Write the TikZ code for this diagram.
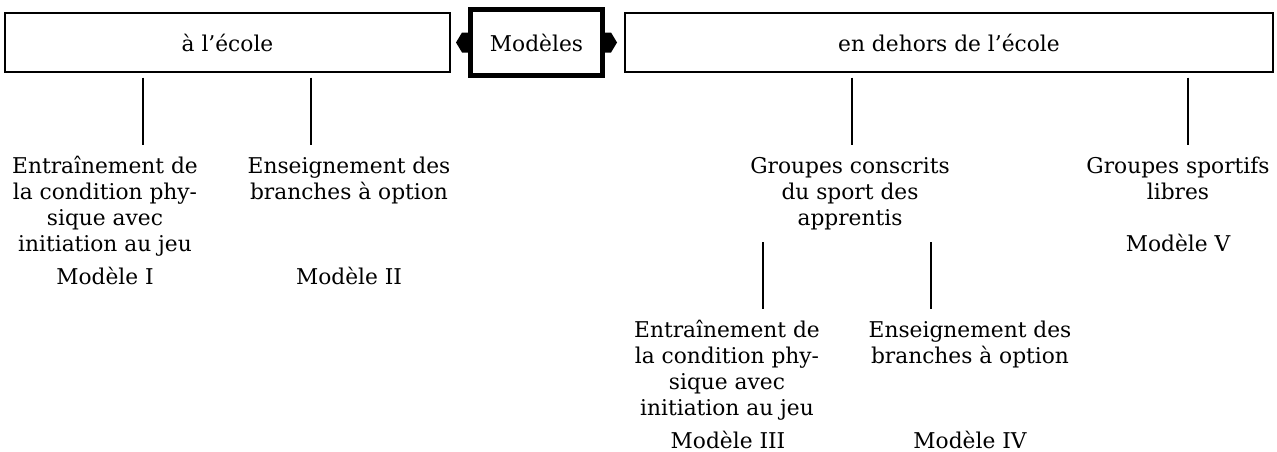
\documentclass[tikz,border=0pt]{standalone}
\usepackage{fontspec}
\setmainfont{DejaVu Serif}
\begin{document}
\begin{tikzpicture}[x=0.75pt,y=-0.75pt,
  box/.style={draw,line width=1pt,inner sep=0pt,font=\fontsize{16.3}{19.5}\selectfont},
  mainbox/.style={draw,line width=3.75pt,inner sep=0pt,font=\fontsize{16.3}{19.5}\selectfont},
  txt/.style={inner sep=0pt,anchor=base,font=\fontsize{16.3}{19.5}\selectfont},
  conn/.style={line width=1pt},
  tip/.style={fill=black,draw=none}]
\useasboundingbox (0,0) rectangle (1277,451);
\node[box,minimum width=445*0.75pt,minimum height=59*0.75pt] (ecole) at (227.5,42.5) {à l'école};
\node[mainbox,minimum width=132*0.75pt,minimum height=66*0.75pt] (modeles) at (536.5,42.5) {Modèles};
\node[box,minimum width=648*0.75pt,minimum height=59*0.75pt] (dehors) at (949,42.5) {en dehors de l'école};
\fill[tip] (modeles.west) ++(0,-10) -- ++(-6,0) -- ++(-6,10) -- ++(6,10) -- ++(6,0) -- cycle;
\fill[tip] (modeles.east) ++(0,-10) -- ++(6,0) -- ++(6,10) -- ++(-6,10) -- ++(-6,0) -- cycle;
\newcommand{\lines}[1]{\begin{tabular}[t]{@{}c@{}}#1\end{tabular}}
\node[txt] (t1) at (105,173) {\lines{Entraînement de\\la condition phy-\\sique avec\\initiation au jeu}};
\node[txt] (m1) at (105,284) {Modèle I};
\node[txt] (t2) at (349,173) {\lines{Enseignement des\\branches à option}};
\node[txt] (m2) at (349,284) {Modèle II};
\node[txt] (t3) at (850,173) {\lines{Groupes conscrits\\du sport des\\apprentis}};
\node[txt] (t4) at (1178,173) {\lines{Groupes sportifs\\libres}};
\node[txt] (m5) at (1178,251) {Modèle V};
\node[txt] (t6) at (727,337) {\lines{Entraînement de\\la condition phy-\\sique avec\\initiation au jeu}};
\node[txt] (m3) at (728,448) {Modèle III};
\node[txt] (t7) at (970,337) {\lines{Enseignement des\\branches à option}};
\node[txt] (m4) at (970,448) {Modèle IV};
\coordinate (x1) at (143,0);
\coordinate (x2) at (311,0);
\coordinate (x3) at (852,0);
\coordinate (x4) at (1188,0);
\coordinate (x5) at (763,0);
\coordinate (x6) at (931,0);
\draw[conn] ([yshift=-5*0.75pt]ecole.south -| x1) -- (x1 |- 0,145);
\draw[conn] ([yshift=-5*0.75pt]ecole.south -| x2) -- (x2 |- 0,145);
\draw[conn] ([yshift=-5*0.75pt]dehors.south -| x3) -- (x3 |- 0,145);
\draw[conn] ([yshift=-5*0.75pt]dehors.south -| x4) -- (x4 |- 0,145);
\draw[conn] (x5 |- 0,242) -- (x5 |- 0,309);
\draw[conn] (x6 |- 0,242) -- (x6 |- 0,309);
\end{tikzpicture}
\end{document}
